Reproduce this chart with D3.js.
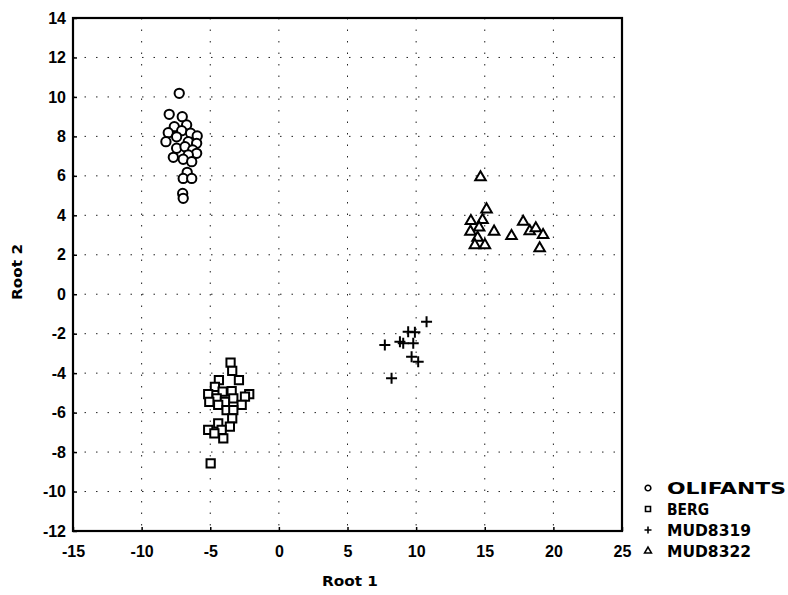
<!DOCTYPE html>
<html>
<head>
<meta charset="utf-8">
<script src="https://cdn.jsdelivr.net/npm/d3@7"></script>
<style>
  body { margin: 0; background: #fff; }
  text { font-family: "Liberation Sans", Arial, sans-serif; font-weight: bold; fill: #000; }
</style>
</head>
<body>
<div id="chart"></div>
<script>
// group names as they appear in the legend
var groups = ['OLIFANTS', 'BERG', 'MUD8319', 'MUD8322'];

// canonical scores: [root1, root2]
var olifants = [
  [-7.26, 10.18], [-7.99, 9.12], [-7.04, 9.0], [-7.62, 8.49], [-6.72, 8.58],
  [-7.08, 8.29], [-8.06, 8.19], [-6.43, 8.16], [-5.95, 8.02], [-7.45, 7.98],
  [-8.23, 7.73], [-6.60, 7.73], [-5.99, 7.65], [-7.45, 7.40], [-6.84, 7.48],
  [-6.28, 7.31], [-5.99, 7.14], [-7.69, 6.94], [-6.60, 7.06], [-6.97, 6.84],
  [-6.35, 6.72], [-6.68, 6.18], [-6.97, 5.87], [-6.35, 5.87], [-7.01, 5.11],
  [-6.97, 4.86]
];
var berg = [
  [-3.52, -3.47], [-3.40, -3.88], [-2.91, -4.35], [-4.37, -4.35], [-4.66, -4.69],
  [-5.15, -5.06], [-4.10, -4.94], [-3.44, -4.91], [-2.16, -5.06], [-4.53, -5.28],
  [-3.32, -5.28], [-2.47, -5.19], [-5.07, -5.45], [-3.93, -5.45], [-2.71, -5.61],
  [-4.42, -5.61], [-3.81, -5.87], [-3.32, -5.87], [-3.40, -6.29], [-4.42, -6.54],
  [-3.57, -6.71], [-5.15, -6.88], [-4.17, -6.88], [-4.05, -7.30], [-4.70, -7.05],
  [-4.97, -8.57]
];
var mud8319 = [
  [10.76, -1.39], [9.42, -1.90], [9.91, -1.93], [7.72, -2.57], [8.82, -2.41],
  [9.06, -2.49], [9.79, -2.49], [9.67, -3.17], [10.15, -3.42], [8.21, -4.26]
];
var mud8322 = [
  [14.69, 5.93], [15.13, 4.30], [13.99, 3.71], [14.84, 3.76], [14.59, 3.38],
  [13.96, 3.17], [15.68, 3.17], [14.48, 2.86], [16.95, 2.95], [17.80, 3.67],
  [18.28, 3.20], [18.72, 3.34], [19.25, 3.00], [14.28, 2.49], [15.01, 2.49],
  [19.00, 2.33]
];

var xTicks = [-15, -10, -5, 0, 5, 10, 15, 20, 25];
var yTicks = [-12, -10, -8, -6, -4, -2, 0, 2, 4, 6, 8, 10, 12, 14];

var series = [olifants, berg, mud8319, mud8322];
var shapes = [d3.symbolCircle, d3.symbolSquare, d3.symbolCross, d3.symbolTriangle];
var sizes = [68, 68, 0, 48];

//sets dimensions
var width = 788, height = 595;
var margin = {top: 18, left: 73, right: 166, bottom: 64};

var x = d3.scaleLinear().domain([-15, 25]).range([margin.left, width - margin.right]);
var y = d3.scaleLinear().domain([-12, 14]).range([height - margin.bottom, margin.top]);

var svg = d3.select('#chart').append('svg')
  .attr('width', width).attr('height', height);

// dotted grid
svg.append('g').selectAll('line').data(xTicks.slice(1, -1)).enter().append('line')
  .attr('x1', function(d) { return x(d); }).attr('x2', function(d) { return x(d); })
  .attr('y1', y(14)).attr('y2', y(-12))
  .style('stroke', '#222').style('stroke-width', 1).style('stroke-dasharray', '1.5,10');
svg.append('g').selectAll('line').data(yTicks.slice(1, -1)).enter().append('line')
  .attr('y1', function(d) { return y(d); }).attr('y2', function(d) { return y(d); })
  .attr('x1', x(-15)).attr('x2', x(25))
  .style('stroke', '#222').style('stroke-width', 1).style('stroke-dasharray', '1.5,10');

// axes
var fmt = function(d) { return String(d); };
var xAxis = svg.append('g').attr('transform', 'translate(0,' + y(-12) + ')')
  .call(d3.axisBottom(x).tickValues(xTicks).tickSize(-4).tickPadding(15).tickFormat(fmt));
var yAxis = svg.append('g').attr('transform', 'translate(' + x(-15) + ',0)')
  .call(d3.axisLeft(y).tickValues(yTicks).tickSize(-4).tickPadding(7).tickFormat(fmt));
[xAxis, yAxis].forEach(function(a) {
  a.select('.domain').remove();
  a.selectAll('line').style('stroke', '#000').style('stroke-width', 1.5);
  a.selectAll('text').style('font-size', '16px').style('font-family', '"Liberation Sans", Arial, sans-serif')
    .style('font-weight', 'bold');
});

// frame
svg.append('rect')
  .attr('x', x(-15)).attr('y', y(14))
  .attr('width', x(25) - x(-15)).attr('height', y(-12) - y(14))
  .style('fill', 'none').style('stroke', '#000').style('stroke-width', 2.2);

function plus(r) {
  return 'M' + (-r) + ',0L' + r + ',0M0,' + (-r) + 'L0,' + r;
}

// points
series.forEach(function(pts, i) {
  svg.append('g').selectAll('path').data(pts).enter().append('path')
    .attr('transform', function(d) { return 'translate(' + x(d[0]) + ',' + y(d[1]) + ')'; })
    .attr('d', i == 2 ? plus(5.5) : d3.symbol().type(shapes[i]).size(sizes[i])())
    .style('fill', i == 2 ? 'none' : '#fff')
    .style('stroke', '#000').style('stroke-width', 2);
});

// axis titles
svg.append('text').attr('x', 350).attr('y', 586).attr('text-anchor', 'middle')
  .attr('textLength', 56).attr('lengthAdjust', 'spacingAndGlyphs')
  .style('font-family', '"DejaVu Sans", sans-serif')
  .style('font-size', '14px').text('Root 1');
svg.append('text').attr('transform', 'translate(22,272) rotate(-90)').attr('text-anchor', 'middle')
  .attr('textLength', 56).attr('lengthAdjust', 'spacingAndGlyphs')
  .style('font-family', '"DejaVu Sans", sans-serif')
  .style('font-size', '14px').text('Root 2');

// legend
var legendW = [119, 42, 84, 84];
var legend = svg.append('g');
groups.forEach(function(g, i) {
  var ly = 488 + i * 21;
  legend.append('path')
    .attr('transform', 'translate(648,' + ly + ')')
    .attr('d', i == 2 ? plus(3.5) : d3.symbol().type(shapes[i]).size(i == 3 ? 20 : 25)())
    .style('fill', i == 2 ? 'none' : '#fff')
    .style('stroke', '#000').style('stroke-width', 1.6);
  legend.append('text').attr('x', 667).attr('y', ly + 6)
    .attr('textLength', legendW[i]).attr('lengthAdjust', 'spacingAndGlyphs')
    .style('font-family', '"DejaVu Sans", sans-serif')
    .style('font-size', '16px').style('font-weight', 'bold').text(g);
});
</script>
</body>
</html>
